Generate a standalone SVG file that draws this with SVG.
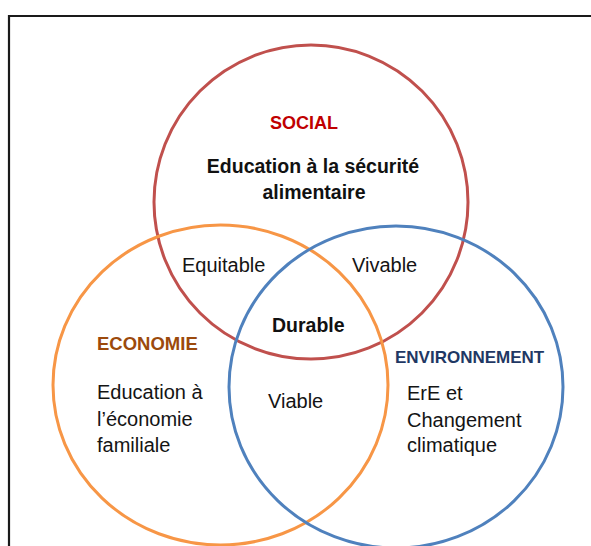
<svg xmlns="http://www.w3.org/2000/svg" width="591" height="546" viewBox="0 0 591 546">
<style>
text { font-family: "Liberation Sans", Arial, sans-serif; }
.reg { font-size: 20px; fill: #141414; }
.bold { font-weight: bold; }
.ring { fill: none; stroke-width: 3; }
</style>
<rect x="0" y="0" width="591" height="546" fill="#ffffff"/>
<path d="M9,560 V16 H600" fill="none" stroke="#1a1a1a" stroke-width="2.2"/>
<g id="social">
  <circle class="ring" cx="311" cy="202" r="157" stroke="#C0504D"/>
  <text x="304" y="129" text-anchor="middle" class="bold" font-size="18" fill="#C00000">SOCIAL</text>
  <text x="313" y="173" text-anchor="middle" class="bold" font-size="19.5" fill="#111">Education à la sécurité</text>
  <text x="314" y="199" text-anchor="middle" class="bold" font-size="19.5" fill="#111">alimentaire</text>
</g>
<g id="economie">
  <ellipse class="ring" cx="220.5" cy="385" rx="167.5" ry="160" stroke="#F79646"/>
  <text x="97" y="350" class="bold" font-size="18.5" fill="#9C4A0C">ECONOMIE</text>
  <text x="97" y="399" class="reg">Education à</text>
  <text x="97" y="426" class="reg">l’économie</text>
  <text x="97" y="452" class="reg">familiale</text>
</g>
<g id="environnement">
  <ellipse class="ring" cx="396" cy="387" rx="167" ry="161" stroke="#4F81BD"/>
  <text x="395" y="363" class="bold" font-size="17" fill="#1F3864">ENVIRONNEMENT</text>
  <text x="407" y="400" class="reg">ErE et</text>
  <text x="407" y="427" class="reg">Changement</text>
  <text x="407" y="452" class="reg">climatique</text>
</g>
<g id="equitable"><text x="182" y="272" class="reg">Equitable</text></g>
<g id="vivable"><text x="352" y="272" class="reg">Vivable</text></g>
<g id="durable"><text x="272" y="332" class="bold" font-size="19.5" fill="#111">Durable</text></g>
<g id="viable"><text x="268" y="408" class="reg">Viable</text></g>
</svg>
